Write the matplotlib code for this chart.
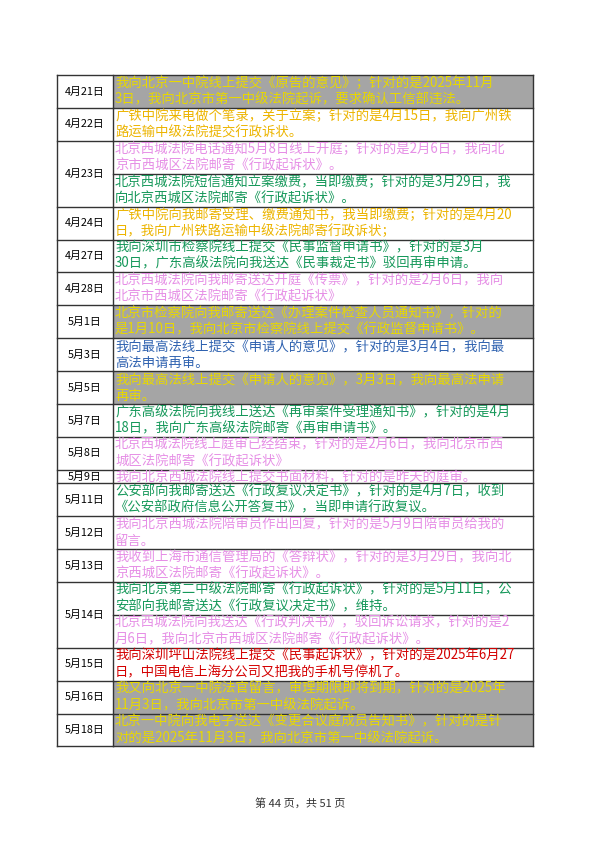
import matplotlib
matplotlib.use("Agg")
import matplotlib.pyplot as plt
from matplotlib.patches import Rectangle

plt.rcParams['font.family'] = ['Noto Sans CJK SC', 'DejaVu Sans']

dates = ["4月21日", "4月22日", "4月23日", "4月24日", "4月27日", "4月28日", "5月1日", "5月3日",
         "5月5日", "5月7日", "5月8日", "5月9日", "5月11日", "5月12日", "5月13日", "5月14日",
         "5月15日", "5月16日", "5月18日"]

# entries per date: (text lines, text colour key, shaded)
entries = [
    [(["我向北京一中院线上提交《原告的意见》；针对的是2025年11月", "3日，我向北京市第一中级法院起诉，要求确认工信部违法。"], "gold", True)],
    [(["广铁中院来电做个笔录，关于立案；针对的是4月15日，我向广州铁", "路运输中级法院提交行政诉状。"], "amber", False)],
    [(["北京西城法院电话通知5月8日线上开庭；针对的是2月6日，我向北", "京市西城区法院邮寄《行政起诉状》。"], "pink", False),
     (["北京西城法院短信通知立案缴费，当即缴费；针对的是3月29日，我", "向北京西城区法院邮寄《行政起诉状》。"], "green", False)],
    [(["广铁中院向我邮寄受理、缴费通知书，我当即缴费；针对的是4月20", "日，我向广州铁路运输中级法院邮寄行政诉状；"], "amber", False)],
    [(["我向深圳市检察院线上提交《民事监督申请书》，针对的是3月", "30日，广东高级法院向我送达《民事裁定书》驳回再审申请。"], "green", False)],
    [(["北京西城法院向我邮寄送达开庭《传票》，针对的是2月6日，我向", "北京市西城区法院邮寄《行政起诉状》"], "pink", False)],
    [(["北京市检察院向我邮寄送达《办理案件检查人员通知书》，针对的", "是1月10日，我向北京市检察院线上提交《行政监督申请书》。"], "gold", True)],
    [(["我向最高法线上提交《申请人的意见》，针对的是3月4日，我向最", "高法申请再审。"], "blue", False)],
    [(["我向最高法线上提交《申请人的意见》，3月3日，我向最高法申请", "再审。"], "gold", True)],
    [(["广东高级法院向我线上送达《再审案件受理通知书》，针对的是4月", "18日，我向广东高级法院邮寄《再审申请书》。"], "green", False)],
    [(["北京西城法院线上庭审已经结束，针对的是2月6日，我向北京市西", "城区法院邮寄《行政起诉状》"], "pink", False)],
    [(["我向北京西城法院线上提交书面材料，针对的是昨天的庭审。"], "pink", False)],
    [(["公安部向我邮寄送达《行政复议决定书》，针对的是4月7日，收到", "《公安部政府信息公开答复书》，当即申请行政复议。"], "green", False)],
    [(["我向北京西城法院陪审员作出回复，针对的是5月9日陪审员给我的", "留言。"], "pink", False)],
    [(["我收到上海市通信管理局的《答辩状》，针对的是3月29日，我向北", "京西城区法院邮寄《行政起诉状》。"], "pink", False)],
    [(["我向北京第二中级法院邮寄《行政起诉状》，针对的是5月11日，公", "安部向我邮寄送达《行政复议决定书》，维持。"], "green", False),
     (["北京西城法院向我送达《行政判决书》，驳回诉讼请求，针对的是2", "月6日，我向北京市西城区法院邮寄《行政起诉状》。"], "pink", False)],
    [(["我向深圳坪山法院线上提交《民事起诉状》，针对的是2025年6月27", "日，中国电信上海分公司又把我的手机号停机了。"], "red", False)],
    [(["我又向北京一中院法官留言，审理期限即将到期，针对的是2025年", "11月3日，我向北京市第一中级法院起诉。"], "gold", True)],
    [(["北京一中院向我电子送达《变更合议庭成员告知书》，针对的是针", "对的是2025年11月3日，我向北京市第一中级法院起诉。"], "gold", True)],
]

colors = {"gold": "#e8d800", "amber": "#ecb400", "pink": "#e68fe6",
          "green": "#16985a", "blue": "#2f62b0", "red": "#d40000"}
footer = "第 44 页，共 51 页"

fig = plt.figure(figsize=(5.99, 8.48), dpi=100)
ax = fig.add_axes([0, 0, 1, 1])
ax.set_xlim(0, 599)
ax.set_ylim(848, 0)
ax.axis("off")

x0, x1, x2 = 57, 113, 533
line_h = 16.45
y = 75
for d, ents in zip(dates, entries):
    ytop = y
    for lines, ck, shaded in ents:
        h = len(lines) * line_h + (0 if len(lines) > 1 else -3)
        if shaded:
            ax.add_patch(Rectangle((x1, y), x2 - x1, h, facecolor="#a5a5a5", edgecolor="none"))
        for i, t in enumerate(lines):
            ax.text(x1 + 2, y + 8 + i * line_h, t, color=colors[ck], fontsize=9.6,
                    va="center", ha="left")
        ax.plot([x1, x2], [y + h, y + h], color="#333333", lw=1.0)
        y += h
    ax.text((x0 + x1) / 2, (ytop + y) / 2, d, fontsize=7.8, ha="center", va="center", color="black")
    ax.plot([x0, x1], [y, y], color="#333333", lw=1.0)
ax.plot([x0, x2], [75, 75], color="#333333", lw=1.0)
for xx in (x0, x1, x2):
    ax.plot([xx, xx], [75, y], color="#333333", lw=1.0)

ax.text(300, 803, footer, fontsize=8, ha="center", va="center", color="#333333")
fig.savefig("out.png", dpi=100)
